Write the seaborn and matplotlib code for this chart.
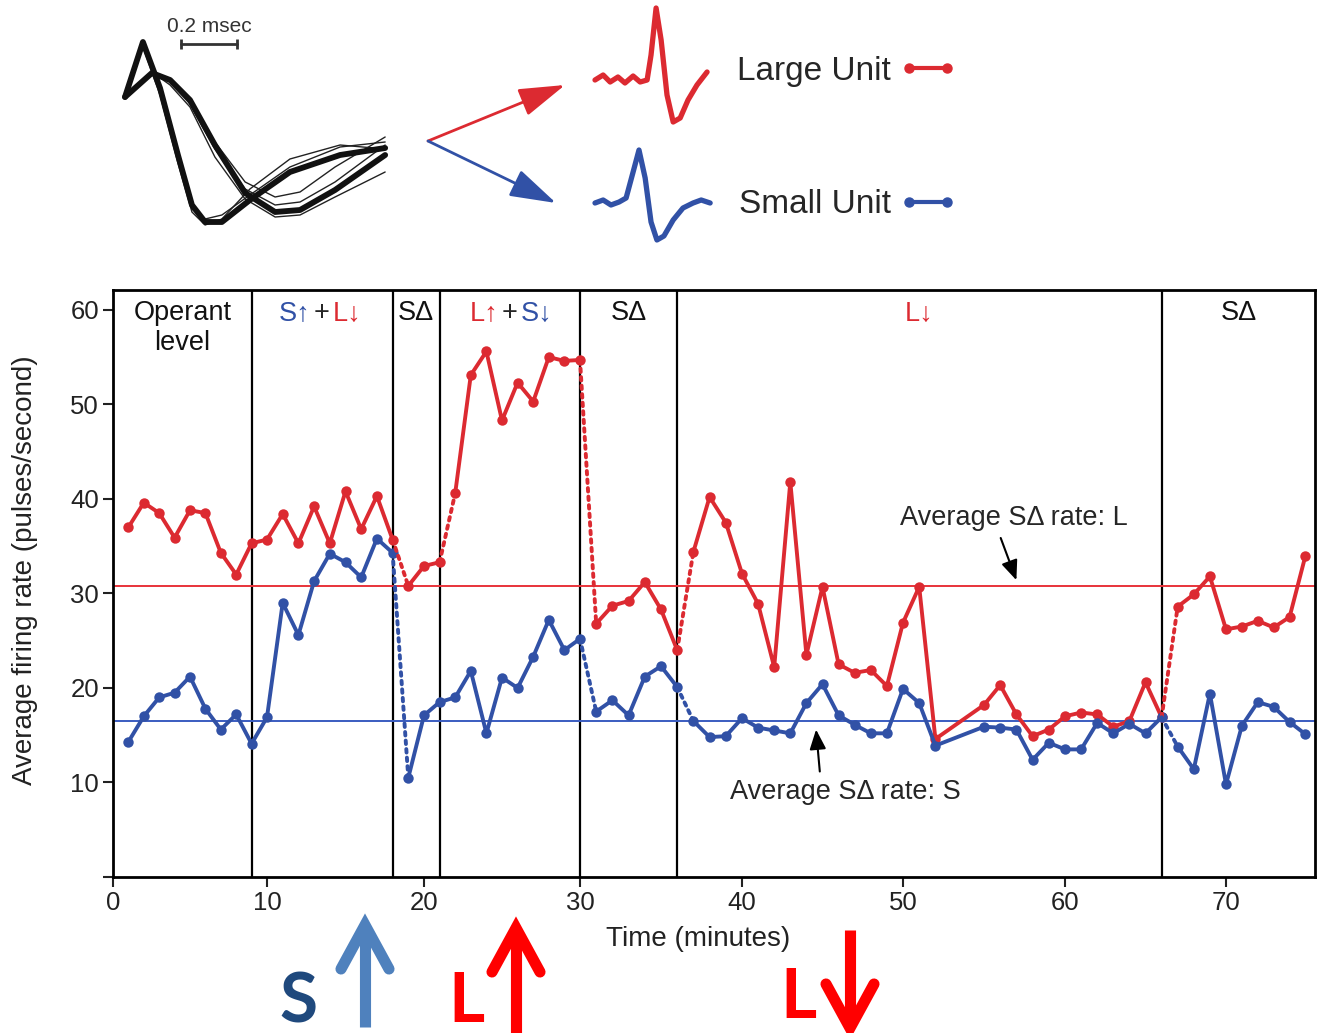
import numpy as np
import pandas as pd
import matplotlib
matplotlib.use("Agg")
import matplotlib.pyplot as plt
from matplotlib.lines import Line2D
import seaborn as sns

# ---------------- data ----------------
minutes = list(range(1, 53)) + list(range(55, 76))
large_rate = [37.0, 39.6, 38.5, 35.9, 38.8, 38.5, 34.3, 32.0, 35.3, 35.7,
              38.4, 35.3, 39.2, 35.3, 40.8, 36.8, 40.3, 35.7, 30.8, 32.9,
              33.3, 40.6, 53.1, 55.6, 48.3, 52.3, 50.3, 55.0, 54.6, 54.7,
              26.8, 28.7, 29.2, 31.2, 28.3, 24.0, 34.4, 40.2, 37.5, 32.1,
              28.9, 22.2, 41.8, 23.5, 30.7, 22.5, 21.6, 21.9, 20.2, 26.9,
              30.7, 14.6,
              18.2, 20.3, 17.2, 14.9, 15.6, 17.0, 17.4, 17.2, 15.9, 16.5,
              20.6, 16.9, 28.6, 29.9, 31.8, 26.2, 26.5, 27.1, 26.4, 27.5, 34.0]
small_rate = [14.3, 17.0, 19.0, 19.5, 21.2, 17.8, 15.6, 17.2, 14.1, 16.9,
              29.0, 25.6, 31.3, 34.2, 33.3, 31.7, 35.8, 34.3, 10.5, 17.1,
              18.5, 19.0, 21.8, 15.2, 21.1, 20.0, 23.3, 27.2, 24.0, 25.2,
              17.5, 18.7, 17.1, 21.2, 22.3, 20.1, 16.5, 14.8, 14.9, 16.8,
              15.8, 15.5, 15.2, 18.4, 20.4, 17.1, 16.1, 15.2, 15.2, 19.9,
              18.4, 13.9,
              15.9, 15.8, 15.6, 12.4, 14.2, 13.5, 13.5, 16.3, 15.2, 16.2,
              15.2, 16.9, 13.8, 11.4, 19.4, 9.8, 16.0, 18.5, 18.0, 16.4, 15.1]
large_breaks = [18, 21, 30, 36, 66]      # dotted link after these minutes
small_breaks = [18, 30, 36, 66]
avg_large = 30.8
avg_small = 16.5

block_edges = [9, 18, 21, 30, 36, 66]
block_labels = ["Operant\nlevel", "S↑ + L↓", "SΔ", "L↑ + S↓", "SΔ", "L↓", "SΔ"]

x_ticks = [0, 10, 20, 30, 40, 50, 60, 70]
y_ticks = [0, 10, 20, 30, 40, 50, 60]
y_ticklabels = ["", "10", "20", "30", "40", "50", "60"]
x_max, y_max = 75.6, 62.1

# waveform icons (time in ms, amplitude in a.u.)
wave_t_a = [0, .064, .125, .189, .239, .286, .346, .446, .589, .768, .929]
wave_a1 = [0, .55, .09, -.58, -1.08, -1.25, -1.25, -1.03, -.75, -.58, -.51]
wave_a2 = [0, .52, .05, -.62, -1.12, -1.22, -1.18, -.98, -.70, -.50, -.45]
wave_a3 = [0, .50, .02, -.66, -1.15, -1.28, -1.22, -.92, -.62, -.48, -.52]
wave_t_b = [0, .096, .161, .232, .321, .429, .536, .625, .75, .929]
wave_b1 = [0, .24, .17, -.03, -.48, -.96, -1.15, -1.13, -.93, -.58]
wave_b2 = [0, .22, .15, -.07, -.52, -.92, -1.08, -1.05, -.85, -.48]
wave_b3 = [0, .25, .12, -.10, -.60, -1.02, -1.20, -1.18, -1.00, -.75]
wave_b4 = [0, .23, .16, -.05, -.45, -.85, -1.00, -.95, -.70, -.40]
large_wave_t = [0, .029, .054, .082, .107, .136, .161, .186, .2, .218, .236,
                .257, .279, .304, .332, .364, .4]
large_wave = [0, .05, -.02, .03, -.03, .04, -.02, 0, .25, .72, .40, -.15,
              -.42, -.38, -.20, -.05, .08]
small_wave_t = [0, .029, .057, .086, .111, .136, .157, .179, .2, .221, .246,
                .279, .314, .35, .379, .411]
small_wave = [0, .03, -.02, .01, .05, .31, .53, .25, -.19, -.37, -.33, -.17,
              -.05, 0, .03, 0]

# the printed time axis is slightly uneven; anchor minutes to where the
# printed ticks sit (pixels along the axis)
axis_minutes = [0, 10, 20, 30, 40, 50, 60, 70, 75.6]
axis_pixels = [0, 154, 311, 467, 629, 790, 952, 1113, 1202]

RED = "#dc2a31"
BLUE = "#3151a6"

# ---------------- style ----------------
sns.set_style("ticks")
plt.rcParams["font.family"] = ["Liberation Sans", "DejaVu Sans"]

W, H = 1320, 1033
fig = plt.figure(figsize=(W / 100, H / 100), dpi=100)


def px_rect(x, y, w, h):
    return [x / W, 1 - (y + h) / H, w / W, h / H]


deco = fig.add_axes([0, 0, 1, 1])
deco.set_xlim(0, W)
deco.set_ylim(H, 0)
deco.set_axis_off()

# ---------------- main chart ----------------
ax = fig.add_axes(px_rect(113, 290, 1202, 587))


def _fwd(x):
    return np.interp(x, axis_minutes, axis_pixels, left=-1e9, right=1e9)


def _inv(p):
    return np.interp(p, axis_pixels, axis_minutes)


ax.set_xscale("function", functions=(_fwd, _inv))

rows, links = [], []
for unit, rates, breaks in [("Large Unit", large_rate, large_breaks),
                            ("Small Unit", small_rate, small_breaks)]:
    seg = 0
    for i, (m, r) in enumerate(zip(minutes, rates)):
        rows.append({"unit": unit, "segment": seg, "minute": m, "rate": r})
        if m in breaks:
            seg += 1
            links.append({"unit": unit, "pair": m, "minute": m, "rate": r})
            links.append({"unit": unit, "pair": m, "minute": minutes[i + 1],
                          "rate": rates[i + 1]})
df = pd.DataFrame(rows)
df_links = pd.DataFrame(links)
palette = {"Large Unit": RED, "Small Unit": BLUE}

for e in block_edges:
    ax.axvline(e, color="black", lw=1.6, zorder=1)
ax.axhline(avg_large, color="#e8333a", lw=1.4, zorder=1.5)
ax.axhline(avg_small, color="#3a5cc0", lw=1.4, zorder=1.5)

sns.lineplot(data=df, x="minute", y="rate", hue="unit", units="segment",
             estimator=None, sort=False, palette=palette, lw=2.8, marker="o",
             markersize=7.5, markeredgewidth=0, legend=False, ax=ax, zorder=3)
sns.lineplot(data=df_links, x="minute", y="rate", hue="unit", units="pair",
             estimator=None, sort=False, palette=palette, lw=2.8,
             linestyle=(0, (0.9, 1.3)), dash_capstyle="round", legend=False,
             ax=ax, zorder=3)

ax.set_xlim(0, x_max)
ax.set_ylim(0, y_max)
ax.set_xticks(x_ticks)
ax.set_xticklabels([str(t) for t in x_ticks])
ax.xaxis.set_minor_locator(matplotlib.ticker.NullLocator())
ax.set_yticks(y_ticks)
ax.set_yticklabels(y_ticklabels)
ax.tick_params(direction="out", length=7, width=1.5, labelsize=18.5, pad=3,
               colors="#222222")
for s in ax.spines.values():
    s.set_linewidth(2)
    s.set_color("black")
ax.set_xlabel("Time (minutes)", fontsize=20, color="#222222")
ax.set_ylabel("Average firing rate (pulses/second)", fontsize=20,
              color="#222222")
ax.xaxis.set_label_coords(0.487, -0.083)
ax.yaxis.set_label_coords(-0.062, 0.523)

# block labels
edges_all = [0] + block_edges + [x_max]
for k, lab in enumerate(block_labels):
    cx = (edges_all[k] + edges_all[k + 1]) / 2
    cy = 61.0
    if " + " in lab:
        left, right = lab.split(" + ")
        cl = BLUE if left[0] == "S" else RED
        cr = BLUE if right[0] == "S" else RED
        ax.text(cx, cy, "+", ha="center", va="top", fontsize=19.5)
        ax.annotate(left, (cx, cy), xytext=(-8, 0), textcoords="offset points",
                    ha="right", va="top", fontsize=19.5, color=cl)
        ax.annotate(right, (cx, cy), xytext=(8, 0), textcoords="offset points",
                    ha="left", va="top", fontsize=19.5, color=cr)
    else:
        col = RED if lab.startswith("L") else "#111111"
        ax.text(cx, cy, lab, ha="center", va="top", fontsize=19.5, color=col,
                linespacing=1.2)

ax.annotate("Average SΔ rate: L", xy=(57.0, 31.4), xytext=(56.85, 38.0),
            ha="center", va="center", fontsize=19.5,
            arrowprops=dict(arrowstyle="-|>,head_length=0.6,head_width=0.25",
                            color="black", lw=1.5, relpos=(0.43, 0.0),
                            shrinkA=3, shrinkB=0, mutation_scale=20))
ax.annotate("Average SΔ rate: S", xy=(44.6, 15.6), xytext=(46.45, 9.0),
            ha="center", va="center", fontsize=19.5,
            arrowprops=dict(arrowstyle="-|>,head_length=0.6,head_width=0.25",
                            color="black", lw=1.5, relpos=(0.39, 1.0),
                            shrinkA=3, shrinkB=0, mutation_scale=20))

# ---------------- waveform icons ----------------
wax = fig.add_axes(px_rect(118, 0, 275, 240))
wax.set_xlim(-0.025, 0.957)
wax.set_ylim(-1.43, 0.97)
wax.set_axis_off()
for ys in [wave_a2, wave_a3]:
    wax.plot(wave_t_a, ys, color="#222222", lw=1.0)
for ys in [wave_b2, wave_b3, wave_b4]:
    wax.plot(wave_t_b, ys, color="#222222", lw=1.0)
wax.plot(wave_t_a, wave_a1, color="#111111", lw=4.2, solid_joinstyle="round")
wax.plot(wave_t_b, wave_b1, color="#111111", lw=4.2, solid_joinstyle="round")
wax.plot([0.2, 0.4], [0.53, 0.53], color="#333333", lw=2, marker="|",
         markersize=7, markeredgewidth=2)
wax.text(0.3, 0.70, "0.2 msec", ha="center", va="center", fontsize=15,
         color="#333333")

rax = fig.add_axes(px_rect(588, 0, 130, 135))
rax.set_xlim(-0.025, 0.439)
rax.set_ylim(-0.55, 0.80)
rax.set_axis_off()
rax.plot(large_wave_t, large_wave, color=RED, lw=3.8, solid_joinstyle="round")

bax = fig.add_axes(px_rect(588, 140, 130, 110))
bax.set_xlim(-0.025, 0.439)
bax.set_ylim(-0.47, 0.63)
bax.set_axis_off()
bax.plot(small_wave_t, small_wave, color=BLUE, lw=3.8, solid_joinstyle="round")

for end, col in [((565, 85), RED), ((556, 203), BLUE)]:
    deco.annotate("", xy=end, xytext=(428, 141),
                  arrowprops=dict(arrowstyle="-|>,head_length=1.3,head_width=0.4",
                                  color=col, lw=2, mutation_scale=22,
                                  shrinkA=0, shrinkB=0))

# legend
handles = [Line2D([0], [0], color=RED, lw=3, marker="o", markersize=6.5),
           Line2D([0], [0], color=BLUE, lw=3, marker="o", markersize=6.5)]
fig.legend(handles=handles, labels=["Large Unit", "Small Unit"], numpoints=2,
           markerfirst=False, frameon=False, fontsize=24, loc="upper left",
           bbox_to_anchor=(737 / W, 1 - 56 / H), handlelength=1.75,
           handletextpad=0.25, labelspacing=3.07, borderpad=0,
           borderaxespad=0)

# ---------------- bottom arrows ----------------
def big_arrow(x, y_tail, y_tip, col, half=24, head=44, lw=8):
    sgn = 1 if y_tail > y_tip else -1
    deco.plot([x, x], [y_tail, y_tip + sgn * 4], color=col, lw=lw,
              solid_capstyle="butt")
    deco.plot([x - half, x, x + half],
              [y_tip + sgn * head, y_tip, y_tip + sgn * head], color=col,
              lw=lw, solid_capstyle="round", solid_joinstyle="miter")


big_arrow(365, 1027, 925, "#4f81bd")
big_arrow(516, 1033, 928, "#ff0000")
big_arrow(850, 930, 1028, "#ff0000")
deco.text(298, 1003, "S", ha="center", va="center", fontsize=50,
          fontweight="bold", color="#1f497d", family="Lato")
deco.text(466, 1003, "L", ha="center", va="center", fontsize=50,
          fontweight="bold", color="#ff0000", family="Lato")
deco.text(798, 999, "L", ha="center", va="center", fontsize=50,
          fontweight="bold", color="#ff0000", family="Lato")

fig.savefig("out.png", dpi=100)
